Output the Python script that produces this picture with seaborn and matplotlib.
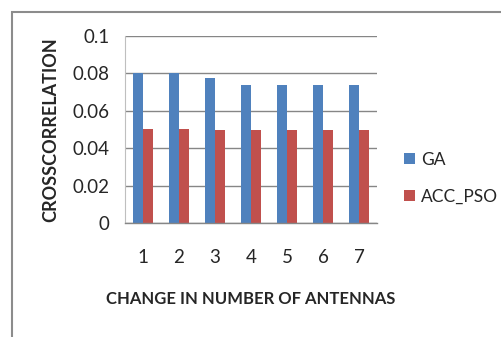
import matplotlib
matplotlib.use("Agg")
import matplotlib.pyplot as plt
from matplotlib.patches import Rectangle, Patch
import seaborn as sns
import pandas as pd

categories = ["1", "2", "3", "4", "5", "6", "7"]
ga = [0.080, 0.080, 0.0775, 0.0740, 0.0740, 0.0740, 0.0740]
acc_pso = [0.0505, 0.0505, 0.0495, 0.0495, 0.0495, 0.0495, 0.0495]
series = ["GA", "ACC_PSO"]
colors = ["#4F81BD", "#C0504D"]
yticks = [0, 0.02, 0.04, 0.06, 0.08, 0.1]
ytick_labels = ["0", "0.02", "0.04", "0.06", "0.08", "0.1"]

df = pd.DataFrame({
    "cat": categories * 2,
    "val": ga + acc_pso,
    "series": [series[0]] * len(categories) + [series[1]] * len(categories),
})

sns.set_style("white")
plt.rcParams["font.family"] = ["Lato", "DejaVu Sans"]

W, H = 501, 337
fig = plt.figure(figsize=(W / 100, H / 100), dpi=100)
ax = fig.add_axes([125 / W, (H - 223) / H, (377 - 125) / W, (223 - 36) / H])

sns.barplot(data=df, x="cat", y="val", hue="series", palette=colors,
            width=0.58, saturation=1, ax=ax, legend=False, edgecolor="none")

ax.set_ylim(0, 0.1)
ax.set_yticks(yticks)
ax.set_yticklabels(ytick_labels, fontsize=13.5)
ax.set_xlim(-0.5, 6.5)
ax.tick_params(axis="x", length=0, pad=19, labelsize=13.5)
ax.tick_params(axis="y", length=7, color="#868686", width=1, pad=4)
ax.yaxis.grid(True, color="#868686", linewidth=1)
ax.set_axisbelow(True)
for s in ["top", "right"]:
    ax.spines[s].set_visible(False)
ax.spines["left"].set_color("#BFBFBF")
ax.spines["bottom"].set_color("#868686")
ax.spines["bottom"].set_linewidth(1)

ax.set_xlabel("CHANGE IN NUMBER OF ANTENNAS", fontsize=12, fontweight="bold",
              labelpad=18)
ax.set_ylabel("CROSSCORRELATION", fontsize=13, fontweight="bold", labelpad=10)

handles = [Patch(facecolor=c, edgecolor="none") for c in colors]
fig.legend(handles, series, loc="center left", bbox_to_anchor=(392 / W, 1 - 178 / H),
           frameon=False, fontsize=12.5, handlelength=0.6, handleheight=0.6,
           handletextpad=0.35, labelspacing=1.2, borderpad=0.2)

fig.patches.append(Rectangle((12 / W, -0.1), 1.2, 1.1 - 12 / H, transform=fig.transFigure,
                             fill=False, edgecolor="#8C8C8C", linewidth=1.5))

fig.savefig("out.png", dpi=100)
